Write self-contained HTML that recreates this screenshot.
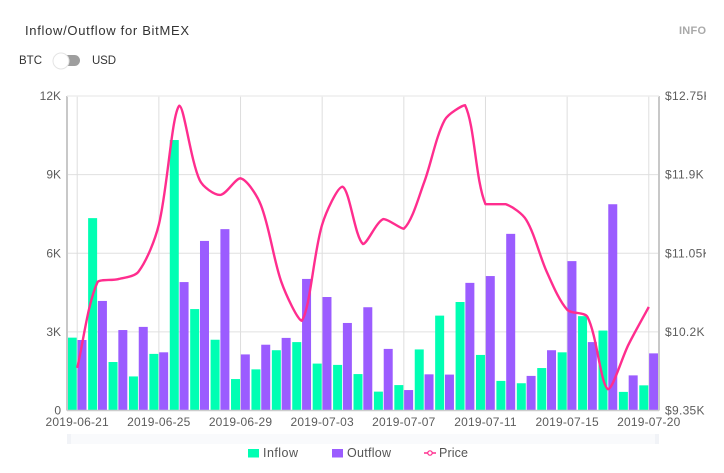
<!DOCTYPE html>
<html>
<head>
<meta charset="utf-8">
<style>
html,body{margin:0;padding:0;background:#fff;}
body{width:724px;height:473px;overflow:hidden;}
svg{display:block;}
text{font-family:"Liberation Sans",sans-serif;}
</style>
</head>
<body>
<svg id="chart" xmlns="http://www.w3.org/2000/svg" width="724" height="473" viewBox="0 0 724 473">
  <defs><clipPath id="page-clip"><rect x="0" y="0" width="706" height="473"></rect></clipPath></defs>
  <text x="25" y="35" font-size="13" fill="#333" textLength="164" lengthAdjust="spacing">Inflow/Outflow for BitMEX</text>
  <text x="679" y="34" font-size="11" font-weight="bold" fill="#a9a9a9" textLength="27" lengthAdjust="spacing">INFO</text>
  <text x="19" y="64" font-size="11.5" fill="#333" textLength="23" lengthAdjust="spacing">BTC</text>
  <g>
    <rect x="60" y="55" width="20" height="11" rx="5.5" fill="#9e9e9e"></rect>
    <circle cx="61" cy="61" r="8" fill="#fff" stroke="#e4e4e4" stroke-width="1"></circle>
  </g>
  <text x="92" y="64" font-size="11.5" fill="#333" textLength="24" lengthAdjust="spacing">USD</text>
  <g id="plot" clip-path="url(#page-clip)"></g>
  <g>
    <rect x="67" y="434" width="592" height="10" fill="#f9fafc"></rect>
    <rect x="67" y="434" width="4" height="10" fill="#f1f3f7"></rect>
    <rect x="655" y="434" width="4" height="10" fill="#f1f3f7"></rect>
  </g>
  <g>
    <g>
      <rect x="248" y="449" width="11" height="8.5" fill="#00ffb3"></rect>
      <text x="263" y="457" font-size="12.5" fill="#555" textLength="35" lengthAdjust="spacing">Inflow</text>
    </g>
    <g>
      <rect x="332" y="449" width="11" height="8.5" fill="#9b5cff"></rect>
      <text x="347" y="457" font-size="12.5" fill="#555" textLength="44" lengthAdjust="spacing">Outflow</text>
    </g>
    <g>
      <line x1="424" y1="453" x2="436" y2="453" stroke="#ff2d8e" stroke-width="1.5"></line>
      <circle cx="430" cy="453" r="2.2" fill="#fff" stroke="#ff2d8e" stroke-width="1.2"></circle>
      <text x="439" y="457" font-size="12.5" fill="#555" textLength="29" lengthAdjust="spacing">Price</text>
    </g>
  </g>
</svg>
<script>
const categories = ["2019-06-21","2019-06-22","2019-06-23","2019-06-24","2019-06-25","2019-06-26","2019-06-27","2019-06-28","2019-06-29","2019-06-30","2019-07-01","2019-07-02","2019-07-03","2019-07-04","2019-07-05","2019-07-06","2019-07-07","2019-07-08","2019-07-09","2019-07-10","2019-07-11","2019-07-12","2019-07-13","2019-07-14","2019-07-15","2019-07-16","2019-07-17","2019-07-18","2019-07-20"];
const inflowValues = [2.78,7.34,1.85,1.3,2.16,10.32,3.87,2.7,1.2,1.57,2.3,2.61,1.79,1.74,1.39,0.72,0.97,2.33,3.62,4.14,2.12,1.13,1.04,1.62,2.22,3.6,3.05,0.71,0.96];
const outflowValues = [2.69,4.18,3.07,3.19,2.22,4.9,6.47,6.92,2.14,2.51,2.77,5.02,4.33,3.34,3.94,2.35,0.78,1.38,1.37,4.87,5.13,6.74,1.32,2.3,5.7,2.61,7.87,1.34,2.18];
const priceValues = [9.81,10.74,10.77,10.85,11.36,12.645,11.84,11.68,11.86,11.57,10.74,10.32,11.36,11.77,11.15,11.42,11.315,11.82,12.49,12.65,11.58,11.58,11.41,10.85,10.44,10.36,9.58,10.06,10.47];
const leftTicks = [0,3,6,9,12];
const leftTickLabels = ["0","3K","6K","9K","12K"];
const rightTicks = [9.35,10.2,11.05,11.9,12.75];
const rightTickLabels = ["$9.35K","$10.2K","$11.05K","$11.9K","$12.75K"];
const xLabelIndexes = [0,4,8,12,16,20,24,28];

const SVG_NS = "http://www.w3.org/2000/svg";
const plot = document.getElementById("plot");
const LEFT = 67, RIGHT = 659, TOP = 96, BOTTOM = 410.5;
const band = (RIGHT - LEFT) / categories.length;
function xCenter(i){ return LEFT + band * (i + 0.5); }
function yLeft(v){ return BOTTOM - (v / 12) * (BOTTOM - TOP); }
function yRight(v){ return BOTTOM - ((v - 9.35) / (12.75 - 9.35)) * (BOTTOM - TOP); }
function make(tag, attrs, parent){
  const el = document.createElementNS(SVG_NS, tag);
  Object.keys(attrs).forEach(function(k){ el.setAttribute(k, attrs[k]); });
  (parent || plot).appendChild(el);
  return el;
}

leftTicks.forEach(function(t, i){
  const y = yLeft(t);
  if (t !== 0) {
    const g = make("line", {x1: LEFT, x2: RIGHT, y1: y, y2: y, stroke: "#e0e0e0", "stroke-width": 1});
    
    
  }
  const lab = make("text", {x: 61, y: y + 4, "text-anchor": "end", "font-size": 12, fill: "#5c5c5c"});
  
  
  lab.textContent = leftTickLabels[i];
});
rightTicks.forEach(function(t, i){
  const lab = make("text", {x: 665, y: yRight(t) + 4, "font-size": 12, fill: "#5c5c5c", "letter-spacing": 0.3});
  
  
  lab.textContent = rightTickLabels[i];
});
xLabelIndexes.forEach(function(idx){
  const x = xCenter(idx);
  const g = make("line", {x1: x, x2: x, y1: TOP, y2: BOTTOM, stroke: "#dedede", "stroke-width": 1});
  
  
  const lab = make("text", {x: x, y: 426, "text-anchor": "middle", "font-size": 12, fill: "#5c5c5c", "letter-spacing": 0.2});
  
  
  lab.textContent = categories[idx];
});

categories.forEach(function(c, i){
  const cx = xCenter(i);
  const yi = yLeft(inflowValues[i]);
  const a = make("rect", {x: cx - 9.5, y: yi, width: 9, height: BOTTOM - yi, fill: "#00ffb3"});
  
  
  const yo = yLeft(outflowValues[i]);
  const b = make("rect", {x: cx + 0.3, y: yo, width: 9, height: BOTTOM - yo, fill: "#9b5cff"});
  
  
});

[[LEFT, TOP, LEFT, BOTTOM, 2, "#c8c8c8"], [RIGHT, TOP, RIGHT, BOTTOM, 2, "#c8c8c8"], [LEFT, BOTTOM, RIGHT, BOTTOM, 1.5, "#cccccc"], [LEFT, TOP, RIGHT, TOP, 1.5, "#eeeeee"]].forEach(function(s, i){
  const ax = make("line", {x1: s[0], y1: s[1], x2: s[2], y2: s[3], "stroke-width": s[4], stroke: s[5]});
  
  
});

function smoothPath(pts, s){
  function clamp(v, a, b){ return Math.max(Math.min(a, b), Math.min(Math.max(a, b), v)); }
  let d = "M" + pts[0][0].toFixed(2) + " " + pts[0][1].toFixed(2);
  const n = pts.length;
  const cpOut = [], cpIn = [];
  for (let i = 0; i < n; i++) {
    const p = pts[i], prev = pts[Math.max(i - 1, 0)], next = pts[Math.min(i + 1, n - 1)];
    const vx = next[0] - prev[0], vy = next[1] - prev[1];
    const lp = Math.hypot(p[0] - prev[0], p[1] - prev[1]);
    const ln = Math.hypot(next[0] - p[0], next[1] - p[1]);
    const tot = (lp + ln) || 1;
    const rn = ln / tot, rp = lp / tot;
    cpOut[i] = [clamp(p[0] + vx * s * rn, p[0], next[0]), clamp(p[1] + vy * s * rn, p[1], next[1])];
    cpIn[i] = [clamp(p[0] - vx * s * rp, p[0], prev[0]), clamp(p[1] - vy * s * rp, p[1], prev[1])];
  }
  for (let i = 0; i < n - 1; i++) {
    d += "C" + cpOut[i][0].toFixed(2) + " " + cpOut[i][1].toFixed(2) + " " +
         cpIn[i + 1][0].toFixed(2) + " " + cpIn[i + 1][1].toFixed(2) + " " +
         pts[i + 1][0].toFixed(2) + " " + pts[i + 1][1].toFixed(2);
  }
  return d;
}
const pricePoints = priceValues.map(function(v, i){ return [xCenter(i), yRight(v)]; });
const priceLine = make("path", {d: smoothPath(pricePoints, 0.3), fill: "none", stroke: "#ff2d8e", "stroke-width": 2.4, "stroke-linejoin": "round"});


</script>
</body>
</html>
